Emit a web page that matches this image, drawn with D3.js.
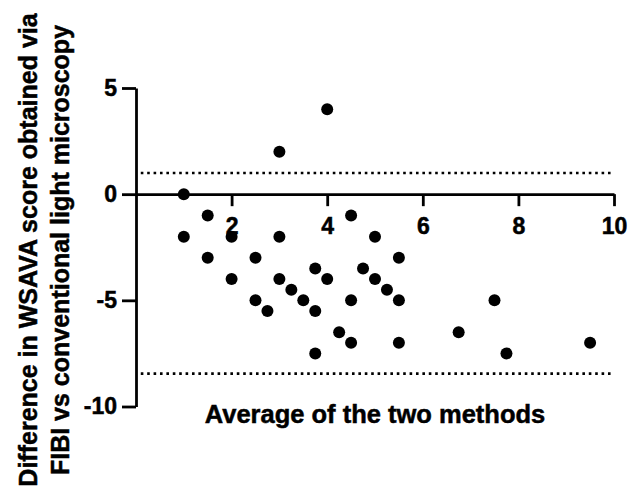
<!DOCTYPE html>
<html>
<head>
<meta charset="utf-8">
<script src="https://cdn.jsdelivr.net/npm/d3@7"></script>
<style>
  html, body { margin: 0; padding: 0; background: #fff; }
  text { font-family: "Liberation Sans", Arial, sans-serif; font-weight: bold; fill: #000; stroke: #000; stroke-width: 0.5px; }
</style>
</head>
<body>
<div id="chart"></div>
<script>
// average of the two methods (x) and difference (y)
const avgValues = [1, 3, 4, 1.5, 4.5, 1, 2, 3, 5, 1.5, 2.5, 5.5, 3.75, 4.75, 2, 3, 4, 5,
  3.25, 5.25, 2.5, 3.5, 4.5, 5.5, 7.5, 2.75, 3.75, 4.25, 6.75, 4.5, 5.5, 9.5, 3.75, 7.75];
const diffValues = [0, 2, 4, -1, -1, -2, -2, -2, -2, -3, -3, -3, -3.5, -3.5, -4, -4, -4, -4,
  -4.5, -4.5, -5, -5, -5, -5, -5, -5.5, -5.5, -6.5, -6.5, -7, -7, -7, -7.5, -7.5];
const limitValues = [1.0, -8.45];   // limits of agreement
const xTicks = [2, 4, 6, 8, 10];
const yTicks = [-10, -5, 0, 5];
const xTitle = "Average of the two methods";
const yTitle = ["Difference in WSAVA score obtained via", "FIBI vs conventional light microscopy"];

const width = 635, height = 492;

const svg = d3.select("#chart").append("svg")
  .attr("width", width)
  .attr("height", height);

const x = d3.scaleLinear().domain([0, 10]).range([136, 614]);
const y = d3.scaleLinear().domain([-10, 5]).range([406.5, 88]);

// limits of agreement (dotted)
svg.selectAll(".limit")
  .data(limitValues)
  .enter().append("line")
  .attr("class", "limit")
  .attr("x1", x(0.1))
  .attr("x2", x(9.95))
  .attr("y1", d => y(d))
  .attr("y2", d => y(d))
  .attr("stroke", "#000")
  .attr("stroke-width", 2.6)
  .attr("stroke-dasharray", "2.6,3.8");

// y axis
const yAxis = svg.append("g")
  .attr("transform", `translate(${x(0)},0)`)
  .call(d3.axisLeft(y).tickValues(yTicks).tickSize(14).tickSizeOuter(0).tickPadding(5).tickFormat(d => String(d)));

// x axis at y = 0
const xAxis = svg.append("g")
  .attr("transform", `translate(0,${y(0)})`)
  .call(d3.axisBottom(x).tickValues(xTicks).tickSize(12).tickSizeOuter(0).tickPadding(12));

[yAxis, xAxis].forEach(g => {
  g.select(".domain").attr("stroke", "#000").attr("stroke-width", 2.8);
  g.selectAll(".tick line").attr("stroke", "#000").attr("stroke-width", 2.8);
  g.selectAll(".tick text")
    .style("font-family", "'Liberation Sans', Arial, sans-serif")
    .style("font-weight", "bold")
    .style("font-size", "23px")
    .attr("fill", "#000");
});

// points
svg.selectAll(".pt")
  .data(avgValues.map((a, i) => [a, diffValues[i]]))
  .enter().append("circle")
  .attr("class", "pt")
  .attr("cx", d => x(d[0]))
  .attr("cy", d => y(d[1]))
  .attr("r", 6)
  .attr("fill", "#000");

// axis titles
svg.append("text")
  .attr("x", (x(0) + x(10)) / 2)
  .attr("y", 423)
  .attr("text-anchor", "middle")
  .style("font-size", "25.5px")
  .text(xTitle);

svg.append("text")
  .attr("transform", "translate(37,250) rotate(-90)")
  .attr("text-anchor", "middle")
  .style("font-size", "25px")
  .selectAll("tspan")
  .data(yTitle)
  .enter().append("tspan")
  .attr("x", 0)
  .attr("dy", (d, i) => i === 0 ? 0 : 32)
  .text(d => d);
</script>
</body>
</html>
